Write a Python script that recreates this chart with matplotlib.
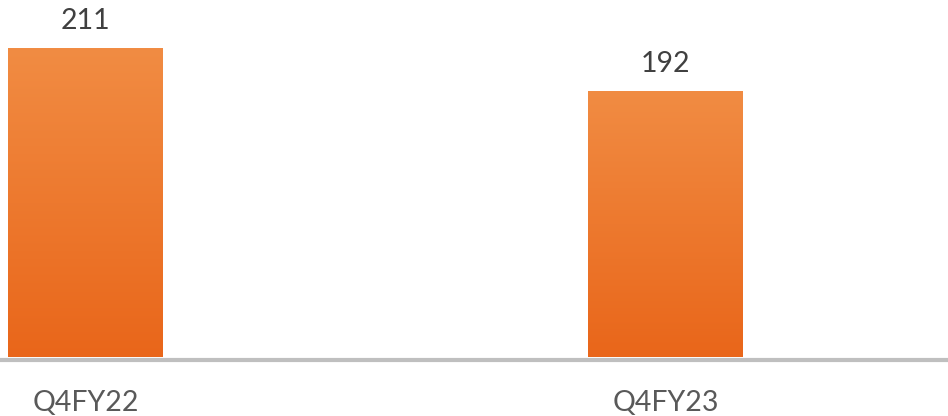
import numpy as np
import matplotlib
matplotlib.use("Agg")
import matplotlib.pyplot as plt
from matplotlib.colors import LinearSegmentedColormap

categories = ["Q4FY22", "Q4FY23"]
values = [211, 192]

W, H, DPI = 948, 416, 100
fig = plt.figure(figsize=(W / DPI, H / DPI), dpi=DPI)
ax_bottom_px = 357
ax = fig.add_axes([0, (H - ax_bottom_px) / H, 1, ax_bottom_px / H])

ymin, ymax = 72.7, 232.6
ax.set_ylim(ymin, ymax)
ax.set_xlim(-0.1474, 1.4871)

x = np.arange(len(categories))
bw = 0.267
bars = ax.bar(x, [v - ymin for v in values], bottom=ymin, width=bw, color="none", zorder=2)

cmap = LinearSegmentedColormap.from_list("og", ["#E9661A", "#F18C43"])
grad = np.linspace(0, 1, 256).reshape(-1, 1)
for b, v in zip(bars, values):
    x0 = b.get_x()
    im = ax.imshow(grad, cmap=cmap, origin="lower", aspect="auto",
                   extent=[x0, x0 + bw, ymin, v], zorder=2)
    im.set_clip_path(b)

ax.set_xlim(-0.1474, 1.4871)
ax.set_ylim(ymin, ymax)

font = "Lato"
for xi, v in zip(x, values):
    ax.annotate(str(v), (xi, v), xytext=(0, 19), textcoords="offset pixels",
                ha="center", va="baseline", fontsize=20.5, color="#404040", family=font)

for xi, c in zip(x, categories):
    ax.annotate(c, (xi, ymin), xytext=(0, -(411 - 357)), textcoords="offset pixels",
                ha="center", va="baseline", fontsize=20.5, color="#595959", family=font,
                annotation_clip=False)

for s in ["top", "left", "right"]:
    ax.spines[s].set_visible(False)
ax.spines["bottom"].set_color("#BFBFBF")
ax.spines["bottom"].set_linewidth(3.0)
ax.spines["bottom"].set_position(("outward", 2))
ax.set_xticks([])
ax.set_yticks([])
ax.patch.set_alpha(0)

fig.savefig("out.png", dpi=DPI)
